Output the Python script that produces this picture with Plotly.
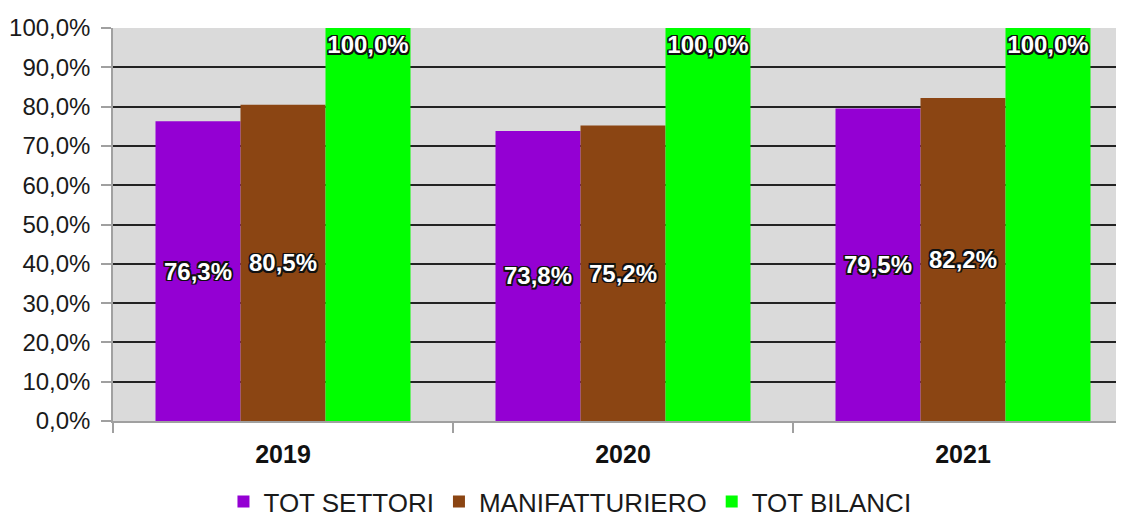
import plotly.graph_objects as go

years = ["2019", "2020", "2021"]
tot_settori = [76.3, 73.8, 79.5]
manifatturiero = [80.5, 75.2, 82.2]
tot_bilanci = [100.0, 100.0, 100.0]
series_names = ["TOT SETTORI", "MANIFATTURIERO", "TOT BILANCI"]
series_colors = ["#9400d3", "#8b4513", "#00ff00"]
y_ticks = [0, 10, 20, 30, 40, 50, 60, 70, 80, 90, 100]
y_tick_labels = ["0,0%", "10,0%", "20,0%", "30,0%", "40,0%", "50,0%",
                 "60,0%", "70,0%", "80,0%", "90,0%", "100,0%"]

FONT = "Liberation Sans, Arial, sans-serif"
outline = "1.5px 1.5px 0 #111, -1.5px -1.5px 0 #111, 1.5px -1.5px 0 #111, -1.5px 1.5px 0 #111, 0 1.5px 0 #111, 0 -1.5px 0 #111, 1.5px 0 0 #111, -1.5px 0 0 #111"

fig = go.Figure()
series = [tot_settori, manifatturiero, tot_bilanci]
anchors = ["middle", "middle", "end"]
for name, vals, col, anc in zip(series_names, series, series_colors, anchors):
    fig.add_trace(go.Bar(
        name=name, x=years, y=vals,
        marker=dict(color=col, line=dict(width=0)),
        texttemplate="%{y:.1f}%",
        textposition="inside",
        insidetextanchor=anc,
        constraintext="none",
        textangle=0,
        textfont=dict(family=FONT, size=24, color="white", weight="bold", shadow=outline),
        hoverinfo="skip",
    ))

# page body has an 8px default margin, so the figure is 8px smaller than the window
fig.update_layout(
    width=1116, height=517,
    margin=dict(l=105, r=0, t=20, b=104, autoexpand=False),
    paper_bgcolor="white",
    plot_bgcolor="#dadada",
    barmode="group",
    bargap=0.25,
    bargroupgap=0,
    separators=",.",
    font=dict(family=FONT, size=24, color="#1a1a1a"),
    showlegend=True,
    legend=dict(
        orientation="h", x=0.452, xanchor="center", y=-0.205, yanchor="middle",
        font=dict(family=FONT, size=26, color="#1a1a1a"),
        itemsizing="constant", traceorder="normal",
    ),
)

fig.update_xaxes(
    range=[-0.5, 2.5 - 9 / 340],
    automargin=False,
    tickson="boundaries",
    ticks="outside", ticklen=10, tickcolor="#a0a0a0", tickwidth=1.5,
    showline=True, linecolor="#a0a0a0", linewidth=1.5,
    showgrid=False,
    tickfont=dict(family=FONT, size=25, color="#111", weight="bold"),
    ticklabelstandoff=10,
)
fig.update_yaxes(
    range=[0, 100],
    automargin=False,
    tickvals=y_ticks,
    ticktext=y_tick_labels,
    ticks="outside", ticklen=10, tickcolor="#a0a0a0", tickwidth=1.5,
    showline=True, linecolor="#a0a0a0", linewidth=1.5,
    showgrid=True, gridcolor="#222222", gridwidth=1.5,
    zeroline=False,
    tickfont=dict(family=FONT, size=24, color="#1a1a1a"),
    ticklabelstandoff=6,
)

fig.write_html("out.html")
